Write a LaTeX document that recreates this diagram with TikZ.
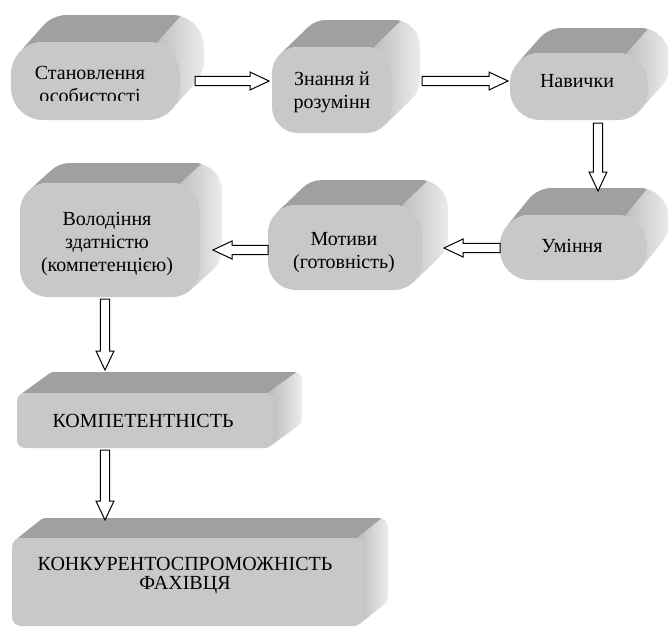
\documentclass[tikz,border=0pt]{standalone}
\usepackage{fontspec}
\setmainfont{Liberation Serif}
\usetikzlibrary{calc}
\pgfdeclarelayer{bg}
\pgfsetlayers{bg,main}

\definecolor{frontgray}{RGB}{200,200,200}
\definecolor{topgray}{RGB}{160,160,160}
\definecolor{sidedark}{RGB}{182,182,182}
\definecolor{sidelight}{RGB}{236,236,236}

\tikzset{every picture/.style={line width=0.75pt}}
\tikzset{
  box/.style={rectangle, fill=frontgray, inner sep=0pt, outer sep=0pt},
  txt/.style={align=center, inner sep=0pt, font=\fontsize{15pt}{17.25pt}\selectfont},
  blockarr/.style={draw, fill=white, line width=0.75pt,
    to path={let \p1=($(\tikztotarget)!14.25pt!(\tikztostart)$) in
      ($(\tikztostart)!3.4pt!90:(\tikztotarget)$) -- ($(\p1)!3.4pt!-90:(\tikztostart)$)
      -- ($(\p1)!6.75pt!-90:(\tikztostart)$) -- (\tikztotarget)
      -- ($(\p1)!6.75pt!90:(\tikztostart)$) -- ($(\p1)!3.4pt!90:(\tikztostart)$)
      -- ($(\tikztostart)!3.4pt!-90:(\tikztotarget)$) -- cycle}}
}

% top and side faces behind a box: node, corner radius, depth x, depth y (pt)
\newcommand\extrude[4]{%
  \begin{pgfonlayer}{bg}
    \shade[left color=sidedark, right color=sidelight]
      let \p1=(#1.south west), \p2=(#1.north east), \n1={atan2(#4,#3)} in
      (\x2-#2pt,\y2) arc[start angle=90, end angle=0, radius=#2pt]
      -- (\x2,\y1+#2pt) arc[start angle=0, end angle=\n1-90, radius=#2pt]
      -- ++(#3pt,#4pt) arc[start angle=\n1-90, end angle=0, radius=#2pt]
      -- (\x2+#3pt,\y2-#2pt+#4pt) arc[start angle=0, end angle=90, radius=#2pt] -- cycle;
    \fill[topgray]
      let \p1=(#1.south west), \p2=(#1.north east), \n1={atan2(#4,#3)+90} in
      ({\x1+#2pt+#2pt*cos(\n1)},{\y2-#2pt+#2pt*sin(\n1)}) arc[start angle=\n1, end angle=90, radius=#2pt]
      -- (\x2-#2pt,\y2) arc[start angle=90, end angle=75, radius=#2pt]
      -- ++(#3pt,#4pt) arc[start angle=75, end angle=90, radius=#2pt]
      -- (\x1+#2pt+#3pt,\y2+#4pt) arc[start angle=90, end angle=\n1, radius=#2pt] -- cycle;
  \end{pgfonlayer}}

\begin{document}
\begin{tikzpicture}[x=0.75pt,y=-0.75pt]
\useasboundingbox (0,0) rectangle (668,629);

%Shape: boxes
\node[box, minimum width=126.75pt, minimum height=58.5pt, rounded corners=24pt] (stan) at (95.5,81) {};
\node[box, minimum width=90pt, minimum height=64.5pt, rounded corners=19.5pt] (znan) at (332,90) {};
\node[box, minimum width=103.5pt, minimum height=50.25pt, rounded corners=22.5pt] (navy) at (579,86.5) {};
\node[box, minimum width=110.25pt, minimum height=48.75pt, rounded corners=22.5pt] (umin) at (573.5,247.5) {};
\node[box, minimum width=115.5pt, minimum height=63.75pt, rounded corners=21pt] (motyv) at (345,247.5) {};
\node[box, minimum width=135pt, minimum height=85.5pt, rounded corners=21pt] (vol) at (110,240) {};
\node[box, minimum width=192pt, minimum height=41.25pt, rounded corners=6pt] (komp) at (145,420.5) {};
\node[box, minimum width=263.25pt, minimum height=66pt, rounded corners=6.75pt] (konk) at (187.5,582) {};

\extrude{stan}{24}{18}{20.25}
\extrude{znan}{19.5}{21}{20.25}
\extrude{navy}{22.5}{16.5}{18.75}
\extrude{umin}{22.5}{16.5}{20.25}
\extrude{motyv}{21}{19.5}{18.75}
\extrude{vol}{21}{16.5}{15}
\extrude{komp}{6}{21.75}{15.75}
\extrude{konk}{6.75}{18.75}{15}

% Text Node
\begin{scope}
\clip (0,0) rectangle (668,100.5);
\node[txt] (stantxt) at (90,84) {Становлення\\особистості};
\end{scope}
% Text Node
\node[txt] (znantxt) at (332,92) {Знання й\\розумінн};
% Text Node
\node[txt] (navytxt) at (577,81) {Навички};
% Text Node
\node[txt] (umintxt) at (572,246) {Уміння};
% Text Node
\node[txt] (motyvtxt) at (344,253) {Мотиви\\(готовність)};
% Text Node
\node[txt] (voltxt) at (107,244.5) {Володіння\\здатністю\\(компетенцією)};
% Text Node
\node[txt] (komptxt) at (143,421) {КОМПЕТЕНТНІСТЬ};
% Text Node
\node[txt, font=\fontsize{15pt}{14.25pt}\selectfont] (konktxt) at (185,575.5) {КОНКУРЕНТОСПРОМОЖНІСТЬ\\ФАХІВЦЯ};

%Block arrows
\draw[blockarr] ([xshift=11.25pt]stan.east) to ([xshift=-2.25pt,yshift=6.75pt]znan.west);
\draw[blockarr] ([xshift=22.5pt,yshift=6.75pt]znan.east) to ([xshift=-1.5pt,yshift=4.125pt]navy.west);
\draw[blockarr] ([xshift=14.25pt,yshift=-2.25pt]navy.south) to ([xshift=18.375pt,yshift=18pt]umin.north);
\draw[blockarr] ([yshift=-0.375pt]umin.west) to ([xshift=16.5pt,yshift=-0.375pt]motyv.east);
\draw[blockarr] ([yshift=-1.875pt]motyv.west) to ([xshift=9.75pt,yshift=-7.5pt]vol.east);
\draw[blockarr] ([xshift=-3.75pt,yshift=-1.5pt]vol.south) to ([xshift=-30pt,yshift=17.25pt]komp.north);
\draw[blockarr] ([xshift=-30pt,yshift=-1.5pt]komp.south) to ([xshift=-61.875pt,yshift=13.5pt]konk.north);

\end{tikzpicture}
\end{document}
